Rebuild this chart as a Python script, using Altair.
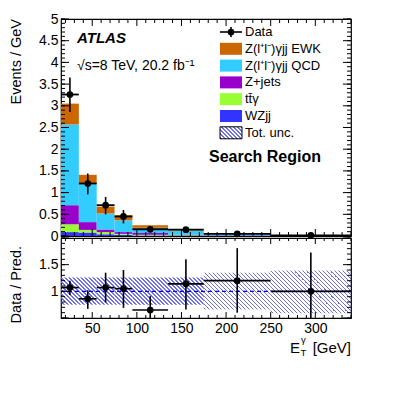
import math
import altair as alt
import numpy as np
import pandas as pd

# ---------------- data ----------------
bin_lo = [15, 35, 55, 75, 95, 135, 175, 250]
bin_hi = [35, 55, 75, 95, 135, 175, 250, 340]

# stack order bottom -> top
proc_names = ["WZjj", "tt̄γ", "Z+jets", "Z(l⁺l⁻)γjj QCD", "Z(l⁺l⁻)γjj EWK"]
proc_colors = ["#3333ff", "#99ff33", "#9900cc", "#33ccff", "#cc6600"]
wzjj = [0.09, 0.08, 0.04, 0.025, 0.010, 0.005, 0.003, 0.001]
ttg = [0.18, 0.06, 0.05, 0.025, 0.020, 0.010, 0.005, 0.002]
zjets = [0.44, 0.18, 0.06, 0.040, 0.040, 0.015, 0.005, 0.002]
qcd = [1.86, 0.89, 0.37, 0.270, 0.120, 0.085, 0.024, 0.007]
ewk = [0.48, 0.20, 0.155, 0.120, 0.055, 0.015, 0.005, 0.003]

data_val = [3.26, 1.21, 0.71, 0.45, 0.155, 0.145, 0.050, 0.015]
data_up = [3.65, 1.44, 0.90, 0.60, 0.195, 0.185, 0.070, 0.027]
data_dn = [2.86, 0.96, 0.50, 0.29, 0.115, 0.105, 0.030, 0.003]

ratio_val = [1.07, 0.86, 1.07, 1.05, 0.65, 1.14, 1.20, 1.00]
ratio_up = [1.20, 1.02, 1.35, 1.40, 0.91, 1.60, 1.81, 1.73]
ratio_dn = [0.93, 0.67, 0.79, 0.69, 0.38, 0.66, 0.60, 0.28]

unc_up = [1.26, 1.26, 1.26, 1.26, 1.26, 1.26, 1.35, 1.39]
unc_dn = [0.75, 0.75, 0.75, 0.75, 0.75, 0.75, 0.66, 0.59]

x_major = [50, 100, 150, 200, 250, 300]
top_y_labels = [0, 0.5, 1, 1.5, 2, 2.5, 3, 3.5, 4, 4.5, 5]
bot_y_labels = [1, 1.5]

legend_labels = ["Data", "Z(l⁺l⁻)γjj EWK", "Z(l⁺l⁻)γjj QCD", "Z+jets", "tt̄γ", "WZjj", "Tot. unc."]

# ---------------- layout ----------------
W, H1, H2 = 290, 217, 80
XMIN, XMAX = 15, 340
BMIN, BMAX = 0.5, 2.0
FONT = "Liberation Sans"
HATCH = "#6e6ee6"
CLEAR = "rgba(255,255,255,0)"
LBL = "datum.value + ''"

xs = alt.Scale(domain=[XMIN, XMAX], nice=False, zero=False)
ys_top = alt.Scale(domain=[0, 5], nice=False)
ys_bot = alt.Scale(domain=[BMIN, BMAX], nice=False, zero=False)

top_yaxis = alt.Axis(values=top_y_labels, labelExpr=LBL, ticks=False, domain=False, grid=False,
                     labelPadding=3, labelFontSize=14, labelColor="black", title=None,
                     labelOverlap=False, labelFont=FONT)
bot_yaxis = alt.Axis(values=bot_y_labels, labelExpr=LBL, ticks=False, domain=False, grid=False,
                     labelPadding=3, labelFontSize=14, labelColor="black", title=None,
                     labelOverlap=False, labelFont=FONT)
bot_xaxis = alt.Axis(values=x_major, labelExpr=LBL, ticks=False, domain=False, grid=False,
                     labelPadding=3, labelFontSize=14, labelColor="black", title=None,
                     labelOverlap=False, labelFlush=False, labelFont=FONT)

one = pd.DataFrame({"k": [0]})


def hatch_fill(x0, y0, w, h, color=HATCH, period=4.0, lw=1.3):
    """diagonal '\\' hatch as a linear gradient in bounding-box units, phase fixed in pixels"""
    L = w + h
    s0 = x0 - y0 - h
    stops = []
    k = math.floor(s0 / period)
    while k * period < s0 + L:
        a = (k * period - s0) / L
        b = (k * period + lw - s0) / L
        a, b = max(0.0, a), min(1.0, b)
        if b > a:
            stops += [{"offset": a, "color": CLEAR}, {"offset": a, "color": color},
                      {"offset": b, "color": color}, {"offset": b, "color": CLEAR}]
        k += 1
    c = (w + h) / (w * w + h * h)
    return {"gradient": "linear", "x1": 0, "y1": 1, "x2": w * c, "y2": 1 - h * c, "stops": stops}


# ---------------- tables ----------------
rows = []
base_level = [0.0] * len(bin_lo)
for i, (p, vals) in enumerate(zip(proc_names, [wzjj, ttg, zjets, qcd, ewk])):
    for j, (lo, hi, v) in enumerate(zip(bin_lo, bin_hi, vals)):
        rows.append({"proc": p, "ord": i, "lo": lo, "hi": hi,
                     "y0": base_level[j], "y1": base_level[j] + v})
        base_level[j] += v
stack_df = pd.DataFrame(rows)

dat = pd.DataFrame({"lo": bin_lo, "hi": bin_hi, "v": data_val, "up": data_up, "dn": data_dn,
                    "r": ratio_val, "rup": ratio_up, "rdn": ratio_dn,
                    "uup": unc_up, "udn": unc_dn, "i": list(range(len(bin_lo)))})
dat["mid"] = (dat["lo"] + dat["hi"]) / 2


def x_ticks(vals, length, H, axis):
    d = pd.DataFrame({"t": vals})
    base = alt.Chart(d).mark_rule(color="black", strokeWidth=1)
    return [
        base.encode(x=alt.X("t:Q", scale=xs, axis=axis), y=alt.value(H), y2=alt.value(H - length)),
        base.encode(x=alt.X("t:Q", scale=xs, axis=axis), y=alt.value(0), y2=alt.value(length)),
    ]


def y_ticks(vals, length, ys, axis):
    d = pd.DataFrame({"t": vals})
    base = alt.Chart(d).mark_rule(color="black", strokeWidth=1)
    return [
        base.encode(y=alt.Y("t:Q", scale=ys, axis=axis), x=alt.value(0), x2=alt.value(length)),
        base.encode(y=alt.Y("t:Q", scale=ys, axis=axis), x=alt.value(W), x2=alt.value(W - length)),
    ]


x_minor = [v for v in range(20, 341, 10) if v % 50 != 0]
top_minor = [round(v, 2) for v in np.arange(0, 5.0001, 0.1)]
bot_minor = [round(v, 2) for v in np.arange(0.5, 2.0001, 0.1)]

# ---------------- top panel ----------------
top_layers = []
top_layers.append(
    alt.Chart(stack_df).mark_rect(strokeWidth=0).encode(
        x=alt.X("lo:Q", scale=xs, axis=None), x2="hi:Q",
        y=alt.Y("y0:Q", scale=ys_top, axis=top_yaxis), y2="y1:Q",
        color=alt.Color("proc:N", scale=alt.Scale(domain=proc_names, range=proc_colors), legend=None),
    )
)
top_layers.append(
    alt.Chart(dat).mark_rule(color="black", strokeWidth=1.8).encode(
        x=alt.X("lo:Q", scale=xs, axis=None), x2="hi:Q",
        y=alt.Y("v:Q", scale=ys_top, axis=top_yaxis))
)
top_layers.append(
    alt.Chart(dat).mark_rule(color="black", strokeWidth=1.6).encode(
        x=alt.X("mid:Q", scale=xs, axis=None),
        y=alt.Y("dn:Q", scale=ys_top, axis=top_yaxis), y2="up:Q")
)
top_layers.append(
    alt.Chart(dat).mark_circle(size=45, color="black", opacity=1).encode(
        x=alt.X("mid:Q", scale=xs, axis=None),
        y=alt.Y("v:Q", scale=ys_top, axis=top_yaxis))
)
top_layers += x_ticks(x_major, 7, H1, None) + x_ticks(x_minor, 4, H1, None)
top_layers += y_ticks(top_y_labels, 8, ys_top, top_yaxis) + y_ticks(top_minor, 4, ys_top, top_yaxis)

# legend
for i, lab in enumerate(legend_labels):
    yc = 13 + 16.8 * i
    if i == 0:
        top_layers.append(alt.Chart(one).mark_rule(color="black", strokeWidth=1.6).encode(
            x=alt.value(159), x2=alt.value(181), y=alt.value(yc)))
        top_layers.append(alt.Chart(one).mark_rule(color="black", strokeWidth=1.6).encode(
            x=alt.value(170), y=alt.value(yc - 5), y2=alt.value(yc + 5)))
        top_layers.append(alt.Chart(one).mark_circle(size=45, color="black", opacity=1).encode(
            x=alt.value(170), y=alt.value(yc)))
    elif i == len(legend_labels) - 1:
        top_layers.append(alt.Chart(one).mark_rect(
            fill=hatch_fill(159, yc - 6, 22, 12), stroke="black", strokeWidth=1).encode(
            x=alt.value(159), x2=alt.value(181), y=alt.value(yc - 6), y2=alt.value(yc + 6)))
    else:
        col = proc_colors[proc_names.index(lab)]
        top_layers.append(alt.Chart(one).mark_rect(fill=col).encode(
            x=alt.value(159), x2=alt.value(181), y=alt.value(yc - 6), y2=alt.value(yc + 6)))
    top_layers.append(alt.Chart(one).mark_text(
        text=lab, align="left", baseline="middle", fontSize=13, color="black", font=FONT).encode(
        x=alt.value(184), y=alt.value(yc)))

top_layers.append(alt.Chart(one).mark_text(
    text="ATLAS", align="left", baseline="alphabetic", fontSize=15, fontWeight="bold",
    fontStyle="italic", color="black", font=FONT).encode(x=alt.value(16), y=alt.value(24)))
top_layers.append(alt.Chart(one).mark_text(
    text="√s=8 TeV, 20.2  fb⁻¹", align="left", baseline="alphabetic", fontSize=14,
    color="black", font=FONT).encode(x=alt.value(16), y=alt.value(50.5)))
top_layers.append(alt.Chart(one).mark_text(
    text="Search Region", align="left", baseline="middle", fontSize=16, fontWeight="bold",
    color="black", font=FONT).encode(x=alt.value(148), y=alt.value(138)))
top_layers.append(alt.Chart(one).mark_text(
    text="Events / GeV", align="right", baseline="middle", angle=270, fontSize=14.5,
    color="black", font=FONT).encode(x=alt.value(-44), y=alt.value(0)))

top = alt.layer(*top_layers).properties(width=W, height=H1)

# ---------------- bottom (ratio) panel ----------------
bot_layers = []
for i in range(len(bin_lo)):
    x0 = (bin_lo[i] - XMIN) / (XMAX - XMIN) * W
    w = (bin_hi[i] - bin_lo[i]) / (XMAX - XMIN) * W
    y0 = (BMAX - unc_up[i]) / (BMAX - BMIN) * H2
    h = (unc_up[i] - unc_dn[i]) / (BMAX - BMIN) * H2
    bot_layers.append(
        alt.Chart(dat).transform_filter(alt.datum.i == i).mark_rect(
            fill=hatch_fill(x0, y0, w, h), strokeWidth=0).encode(
            x=alt.X("lo:Q", scale=xs, axis=bot_xaxis), x2="hi:Q",
            y=alt.Y("udn:Q", scale=ys_bot, axis=bot_yaxis), y2="uup:Q")
    )
bot_layers.append(
    alt.Chart(pd.DataFrame({"one": [1.0]})).mark_rule(color="#0000ff", strokeWidth=1.2, strokeDash=[4, 3]).encode(
        y=alt.Y("one:Q", scale=ys_bot, axis=bot_yaxis), x=alt.value(0), x2=alt.value(W))
)
bot_layers.append(
    alt.Chart(dat).mark_rule(color="black", strokeWidth=1.6, clip=True).encode(
        x=alt.X("lo:Q", scale=xs, axis=bot_xaxis), x2="hi:Q",
        y=alt.Y("r:Q", scale=ys_bot, axis=bot_yaxis))
)
bot_layers.append(
    alt.Chart(dat).mark_rule(color="black", strokeWidth=1.6, clip=True).encode(
        x=alt.X("mid:Q", scale=xs, axis=bot_xaxis),
        y=alt.Y("rdn:Q", scale=ys_bot, axis=bot_yaxis), y2="rup:Q")
)
bot_layers.append(
    alt.Chart(dat).mark_circle(size=45, color="black", opacity=1).encode(
        x=alt.X("mid:Q", scale=xs, axis=bot_xaxis),
        y=alt.Y("r:Q", scale=ys_bot, axis=bot_yaxis))
)
bot_layers += x_ticks(x_major, 6, H2, bot_xaxis) + x_ticks(x_minor, 3, H2, bot_xaxis)
bot_layers += y_ticks([0.5, 1.0, 1.5, 2.0], 8, ys_bot, bot_yaxis) + y_ticks(bot_minor, 4, ys_bot, bot_yaxis)

bot_layers.append(alt.Chart(one).mark_text(
    text="Data / Pred.", align="right", baseline="middle", angle=270, fontSize=14.5,
    color="black", font=FONT).encode(x=alt.value(-44), y=alt.value(8)))
bot_layers.append(alt.Chart(one).mark_text(
    text="[GeV]", align="right", baseline="alphabetic", fontSize=15,
    color="black", font=FONT).encode(x=alt.value(W), y=alt.value(H2 + 34.5)))
bot_layers.append(alt.Chart(one).mark_text(
    text="E", align="left", baseline="alphabetic", fontSize=15,
    color="black", font=FONT).encode(x=alt.value(229), y=alt.value(H2 + 34.5)))
bot_layers.append(alt.Chart(one).mark_text(
    text="T", align="left", baseline="alphabetic", fontSize=9.5,
    color="black", font=FONT).encode(x=alt.value(239.5), y=alt.value(H2 + 37.5)))
bot_layers.append(alt.Chart(one).mark_text(
    text="γ", align="left", baseline="alphabetic", fontSize=9.5,
    color="black", font=FONT).encode(x=alt.value(240), y=alt.value(H2 + 25)))

bottom = alt.layer(*bot_layers).properties(width=W, height=H2)

chart = (
    alt.vconcat(top, bottom, spacing=2)
    .properties(bounds="flush", padding={"left": 0, "top": 3, "right": 5, "bottom": 5})
    .configure(font=FONT)
    .configure_view(stroke="black", strokeWidth=1.2)
)

chart.save("out.html", embed_options={"renderer": "svg", "actions": False})
